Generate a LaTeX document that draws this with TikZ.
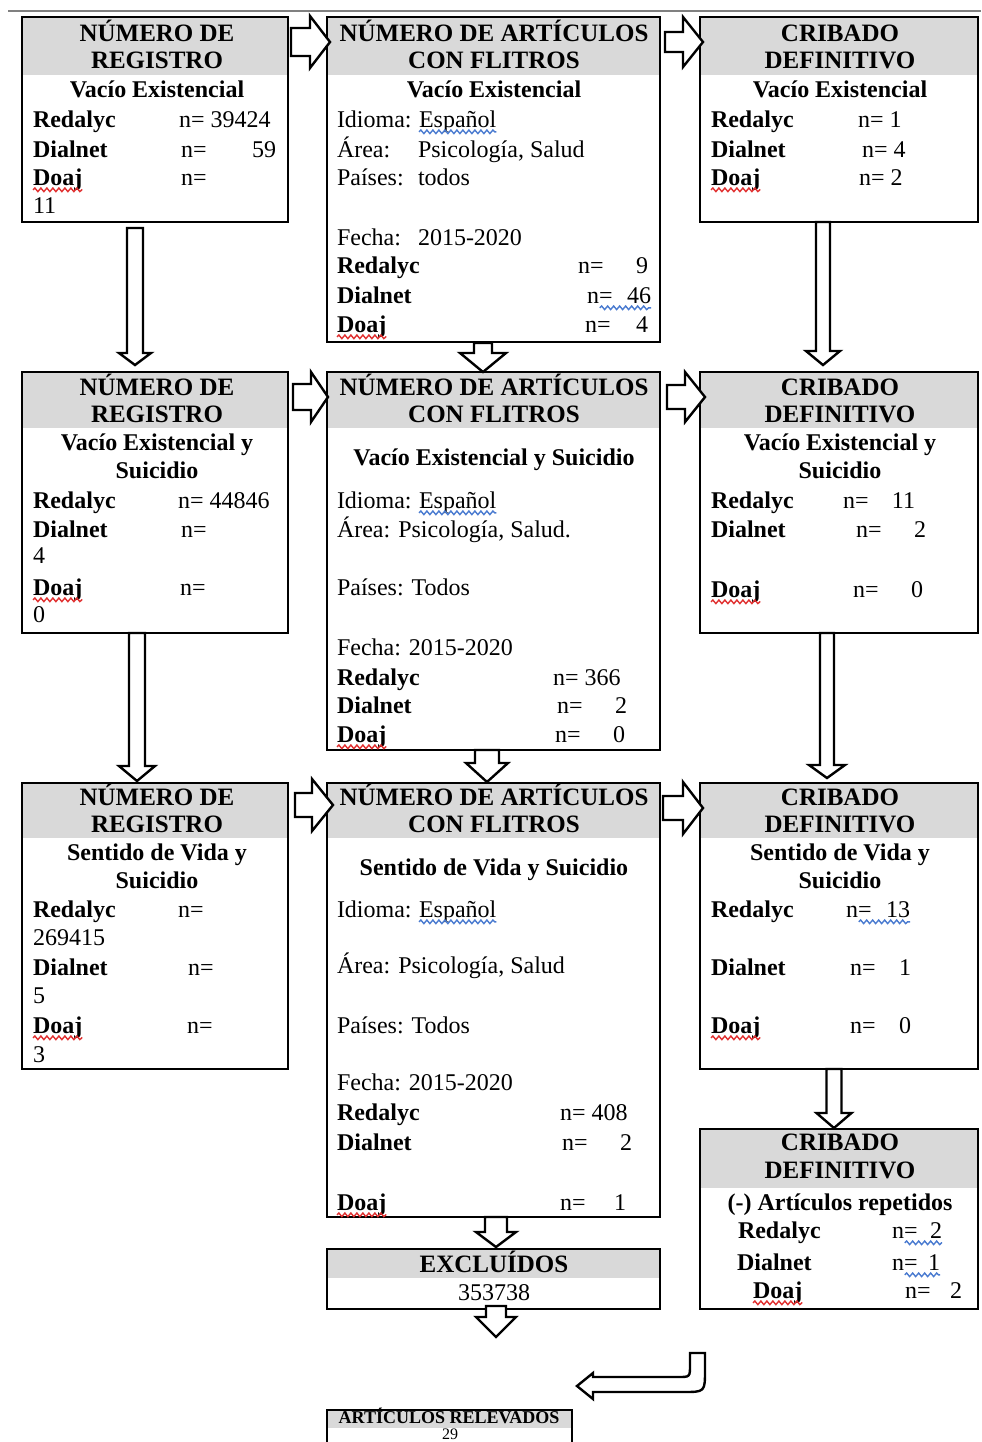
\documentclass[tikz,border=0pt]{standalone}
\usepackage{fontspec}
\setmainfont{Liberation Serif}
\usetikzlibrary{calc,decorations.pathmorphing}
\definecolor{hdrgray}{HTML}{D9D9D9}
\definecolor{topline}{HTML}{808080}
\definecolor{wred}{HTML}{E03030}
\definecolor{wblue}{HTML}{4A7BD0}
% vertical block arrow: #1 x(px) #2 tail anchor #3 tail gap #4 tip anchor #5 tip gap #6 shaft half #7 head half #8 head length
\newcommand{\vblk}[8]{%
 \draw[blk] let \p1=(#1,0 |- #2), \p2=(#1,0 |- #4) in
  ({\x1-(#6)*0.5pt},{\y1-(#3)*0.5pt}) -- ({\x1+(#6)*0.5pt},{\y1-(#3)*0.5pt})
  -- ({\x1+(#6)*0.5pt},{\y2+(#5)*0.5pt+(#8)*0.5pt}) -- ({\x1+(#7)*0.5pt},{\y2+(#5)*0.5pt+(#8)*0.5pt})
  -- (\x1,{\y2+(#5)*0.5pt}) -- ({\x1-(#7)*0.5pt},{\y2+(#5)*0.5pt+(#8)*0.5pt})
  -- ({\x1-(#6)*0.5pt},{\y2+(#5)*0.5pt+(#8)*0.5pt}) -- cycle;}
% horizontal block arrow: #1 y(px)
\newcommand{\hblk}[8]{%
 \draw[blk] let \p1=(#2 |- 0,#1), \p2=(#4 |- 0,#1) in
  ({\x1+(#3)*0.5pt},{\y1+(#6)*0.5pt}) -- ({\x2-(#5)*0.5pt-(#8)*0.5pt},{\y1+(#6)*0.5pt})
  -- ({\x2-(#5)*0.5pt-(#8)*0.5pt},{\y1+(#7)*0.5pt}) -- ({\x2-(#5)*0.5pt},\y1)
  -- ({\x2-(#5)*0.5pt-(#8)*0.5pt},{\y1-(#7)*0.5pt}) -- ({\x2-(#5)*0.5pt-(#8)*0.5pt},{\y1-(#6)*0.5pt})
  -- ({\x1+(#3)*0.5pt},{\y1-(#6)*0.5pt}) -- cycle;}
\tikzset{
 every node/.style={inner sep=0pt, outer sep=0pt},
 box/.style n args={3}{draw, line width=0.8pt, rectangle, anchor=north west,
   minimum width=#1, minimum height=#2,
   path picture={\fill[hdrgray] (path picture bounding box.north west) rectangle ([yshift=-#3]path picture bounding box.north east);}},
 hd/.style={anchor=base, font=\fontsize{12.5}{14}\selectfont\bfseries},
 tc/.style={anchor=base, font=\fontsize{12}{14}\selectfont\bfseries},
 tb/.style={anchor=base west, font=\fontsize{12}{14}\selectfont\bfseries},
 tl/.style={anchor=base west, font=\fontsize{12}{14}\selectfont},
 tr/.style={anchor=base east, font=\fontsize{12}{14}\selectfont},
 blk/.style={draw, fill=white, line width=1.2pt, line join=miter},
 wave/.style={decorate, decoration={snake, amplitude=0.9pt, segment length=3pt}, line width=0.7pt},
 rw/.style={wave, wred},
 bw/.style={wave, wblue},
}
\begin{document}
\begin{tikzpicture}[x=0.5pt, y=-0.5pt]
\useasboundingbox (0,0) rectangle (981,1442);
\draw[topline, line width=1.2pt] (8,11) -- (981,11);

% ---------------- Row 1 ----------------
\node[box={133pt}{102.5pt}{29pt}] (a1) at (22,17) {};
\node[hd] (a1h1) at (157,41) {NÚMERO DE};
\node[hd] (a1h2) at (157,68) {REGISTRO};
\node[tc] (a1s) at (157,97) {Vacío Existencial};
\node[tb] (a1r) at (33,127) {Redalyc};
\node[tl] (a1rn) at (179,127) {n= 39424};
\node[tb] (a1d) at (33,157) {Dialnet};
\node[tl] (a1dn) at (181,157) {n=};
\node[tr] (a1dv) at (276,157) {59};
\node[tb] (a1o) at (33,185) {Doaj};
\node[tl] (a1on) at (181,185) {n=};
\node[tl] (a1ov) at (33,213) {11};

\node[box={166.5pt}{162.5pt}{29pt}] (b1) at (327,17) {};
\node[hd] (b1h1) at (494,41) {NÚMERO DE ARTÍCULOS};
\node[hd] (b1h2) at (494,68) {CON FLITROS};
\node[tc] (b1s) at (494,97) {Vacío Existencial};
\node[tl] (b1i) at (337,127) {Idioma:};
\node[tl] (b1iv) at (419,127) {Español};
\node[tl] (b1a) at (337,157) {Área:};
\node[tl] (b1av) at (418,157) {Psicología, Salud};
\node[tl] (b1p) at (337,185) {Países:};
\node[tl] (b1pv) at (418,185) {todos};
\node[tl] (b1f) at (337,245) {Fecha:};
\node[tl] (b1fv) at (418,245) {2015-2020};
\node[tb] (b1r) at (337,273) {Redalyc};
\node[tl] (b1rn) at (578,273) {n=};
\node[tr] (b1rv) at (648,273) {9};
\node[tb] (b1d) at (337,303) {Dialnet};
\node[tl] (b1dn) at (587,303) {n=};
\node[tr] (b1dv) at (651,303) {46};
\node[tb] (b1o) at (337,332) {Doaj};
\node[tl] (b1on) at (585,332) {n=};
\node[tr] (b1ov) at (648,332) {4};

\node[box={139pt}{102.5pt}{29pt}] (c1) at (700,17) {};
\node[hd] (c1h1) at (840,41) {CRIBADO};
\node[hd] (c1h2) at (840,68) {DEFINITIVO};
\node[tc] (c1s) at (840,97) {Vacío Existencial};
\node[tb] (c1r) at (711,127) {Redalyc};
\node[tl] (c1rn) at (858,127) {n= 1};
\node[tb] (c1d) at (711,157) {Dialnet};
\node[tl] (c1dn) at (862,157) {n= 4};
\node[tb] (c1o) at (711,185) {Doaj};
\node[tl] (c1on) at (859,185) {n= 2};

% ---------------- Row 2 ----------------
\node[box={133pt}{130.5pt}{28pt}] (a2) at (22,372) {};
\node[hd] (a2h1) at (157,395) {NÚMERO DE};
\node[hd] (a2h2) at (157,422) {REGISTRO};
\node[tc] (a2s1) at (157,450) {Vacío Existencial y};
\node[tc] (a2s2) at (157,478) {Suicidio};
\node[tb] (a2r) at (33,508) {Redalyc};
\node[tl] (a2rn) at (178,508) {n= 44846};
\node[tb] (a2d) at (33,537) {Dialnet};
\node[tl] (a2dn) at (181,537) {n=};
\node[tl] (a2dv) at (33,563) {4};
\node[tb] (a2o) at (33,595) {Doaj};
\node[tl] (a2on) at (180,595) {n=};
\node[tl] (a2ov) at (33,622) {0};

\node[box={166.5pt}{189pt}{28pt}] (b2) at (327,372) {};
\node[hd] (b2h1) at (494,395) {NÚMERO DE ARTÍCULOS};
\node[hd] (b2h2) at (494,422) {CON FLITROS};
\node[tc] (b2s) at (494,465) {Vacío Existencial y Suicidio};
\node[tl] (b2i) at (337,508) {Idioma:};
\node[tl] (b2iv) at (419,508) {Español};
\node[tl] (b2a) at (337,537) {Área: Psicología, Salud.};
\node[tl] (b2p) at (337,595) {Países: Todos};
\node[tl] (b2f) at (337,655) {Fecha: 2015-2020};
\node[tb] (b2r) at (337,685) {Redalyc};
\node[tl] (b2rn) at (553,685) {n= 366};
\node[tb] (b2d) at (337,713) {Dialnet};
\node[tl] (b2dn) at (557,713) {n=};
\node[tr] (b2dv) at (627,713) {2};
\node[tb] (b2o) at (337,742) {Doaj};
\node[tl] (b2on) at (555,742) {n=};
\node[tr] (b2ov) at (625,742) {0};

\node[box={139pt}{130.5pt}{28pt}] (c2) at (700,372) {};
\node[hd] (c2h1) at (840,395) {CRIBADO};
\node[hd] (c2h2) at (840,422) {DEFINITIVO};
\node[tc] (c2s1) at (840,450) {Vacío Existencial y};
\node[tc] (c2s2) at (840,478) {Suicidio};
\node[tb] (c2r) at (711,508) {Redalyc};
\node[tl] (c2rn) at (843,508) {n=};
\node[tr] (c2rv) at (915,508) {11};
\node[tb] (c2d) at (711,537) {Dialnet};
\node[tl] (c2dn) at (856,537) {n=};
\node[tr] (c2dv) at (926,537) {2};
\node[tb] (c2o) at (711,597) {Doaj};
\node[tl] (c2on) at (853,597) {n=};
\node[tr] (c2ov) at (923,597) {0};

% ---------------- Row 3 ----------------
\node[box={133pt}{143pt}{27.5pt}] (a3) at (22,783) {};
\node[hd] (a3h1) at (157,805) {NÚMERO DE};
\node[hd] (a3h2) at (157,832) {REGISTRO};
\node[tc] (a3s1) at (157,860) {Sentido de Vida y};
\node[tc] (a3s2) at (157,888) {Suicidio};
\node[tb] (a3r) at (33,917) {Redalyc};
\node[tl] (a3rn) at (178,917) {n=};
\node[tl] (a3rv) at (33,945) {269415};
\node[tb] (a3d) at (33,975) {Dialnet};
\node[tl] (a3dn) at (188,975) {n=};
\node[tl] (a3dv) at (33,1003) {5};
\node[tb] (a3o) at (33,1033) {Doaj};
\node[tl] (a3on) at (187,1033) {n=};
\node[tl] (a3ov) at (33,1062) {3};

\node[box={166.5pt}{217pt}{27.5pt}] (b3) at (327,783) {};
\node[hd] (b3h1) at (494,805) {NÚMERO DE ARTÍCULOS};
\node[hd] (b3h2) at (494,832) {CON FLITROS};
\node[tc] (b3s) at (494,875) {Sentido de Vida y Suicidio};
\node[tl] (b3i) at (337,917) {Idioma:};
\node[tl] (b3iv) at (419,917) {Español};
\node[tl] (b3a) at (337,973) {Área: Psicología, Salud};
\node[tl] (b3p) at (337,1033) {Países: Todos};
\node[tl] (b3f) at (337,1090) {Fecha: 2015-2020};
\node[tb] (b3r) at (337,1120) {Redalyc};
\node[tl] (b3rn) at (560,1120) {n= 408};
\node[tb] (b3d) at (337,1150) {Dialnet};
\node[tl] (b3dn) at (562,1150) {n=};
\node[tr] (b3dv) at (632,1150) {2};
\node[tb] (b3o) at (337,1210) {Doaj};
\node[tl] (b3on) at (560,1210) {n=};
\node[tr] (b3ov) at (626,1210) {1};

\node[box={139pt}{143pt}{27.5pt}] (c3) at (700,783) {};
\node[hd] (c3h1) at (840,805) {CRIBADO};
\node[hd] (c3h2) at (840,832) {DEFINITIVO};
\node[tc] (c3s1) at (840,860) {Sentido de Vida y};
\node[tc] (c3s2) at (840,888) {Suicidio};
\node[tb] (c3r) at (711,917) {Redalyc};
\node[tl] (c3rn) at (846,917) {n=};
\node[tr] (c3rv) at (910,917) {13};
\node[tb] (c3d) at (711,975) {Dialnet};
\node[tl] (c3dn) at (850,975) {n=};
\node[tr] (c3dv) at (911,975) {1};
\node[tb] (c3o) at (711,1033) {Doaj};
\node[tl] (c3on) at (850,1033) {n=};
\node[tr] (c3ov) at (911,1033) {0};

% ---------------- Row 4 ----------------
\node[box={139pt}{90pt}{29.5pt}] (c4) at (700,1129) {};
\node[hd] (c4h1) at (840,1150) {CRIBADO};
\node[hd] (c4h2) at (840,1178) {DEFINITIVO};
\node[tc] (c4s) at (840,1210) {(-) Artículos repetidos};
\node[tb] (c4r) at (738,1238) {Redalyc};
\node[tl] (c4rn) at (892,1238) {n=};
\node[tr] (c4rv) at (942,1238) {2};
\node[tb] (c4d) at (737,1270) {Dialnet};
\node[tl] (c4dn) at (892,1270) {n=};
\node[tr] (c4dv) at (940,1270) {1};
\node[tb] (c4o) at (753,1298) {Doaj};
\node[tl] (c4on) at (905,1298) {n=};
\node[tr] (c4ov) at (962,1298) {2};

\node[box={166.5pt}{30pt}{14.5pt}] (ex) at (327,1249) {};
\node[hd] (exh) at (494,1272) {EXCLUÍDOS};
\node[anchor=base, font=\fontsize{12}{14}\selectfont] (exv) at (494,1300) {353738};

\node[box={122.5pt}{40pt}{9pt}] (art) at (327,1410) {};
\node[anchor=base, font=\fontsize{9}{11}\selectfont\bfseries] (arth) at (449,1423) {ARTÍCULOS RELEVADOS};
\node[anchor=base, font=\fontsize{8}{10}\selectfont] (artv) at (450,1439) {29};

% ---------------- wavy underlines ----------------
\foreach \n in {a1o,b1o,c1o,a2o,b2o,c2o,a3o,b3o,c3o,c4o}{
  \draw[rw] ([yshift=-2.4pt]\n.base west) -- ([yshift=-2.4pt]\n.base east);
}
\foreach \n in {b1iv,b2iv,b3iv}{
  \draw[bw] ([yshift=-2.4pt]\n.base west) -- ([yshift=-2.4pt]\n.base east);
}
\draw[bw] ([yshift=-2.4pt]b1dn.base) -- ([yshift=-2.4pt]b1dv.base east);
\draw[bw] ([yshift=-2.4pt]c3rn.base) -- ([yshift=-2.4pt]c3rv.base east);
\draw[bw] ([yshift=-2.4pt]c4rn.base) -- ([yshift=-2.4pt]c4rv.base east);
\draw[bw] ([yshift=-2.4pt]c4dn.base) -- ([yshift=-2.4pt]c4dv.base east);

% ---------------- block arrows ----------------
\hblk{42}{a1.east}{3}{b1.west}{-3}{14}{26}{20}
\hblk{42}{b1.east}{5}{c1.west}{-3}{10}{25}{20}
\hblk{397}{a2.east}{5}{b2.west}{-1}{13}{25}{17}
\hblk{397}{b2.east}{7}{c2.west}{-5}{12}{25}{20}
\hblk{805}{a3.east}{7}{b3.west}{-6}{12}{26}{21}
\hblk{808}{b3.east}{3}{c3.west}{-3}{12}{26}{20}

\vblk{135}{a1.south}{6}{a2.north}{7}{8}{16}{12}
\vblk{483}{b1.south}{1}{b2.north}{0}{9}{23}{19}
\vblk{823}{c1.south}{0}{c2.north}{7}{7}{17}{14}
\vblk{137}{a2.south}{0}{a3.north}{2}{8}{18}{15}
\vblk{487}{b2.south}{0}{b3.north}{1}{12}{21}{19}
\vblk{827}{c2.south}{0}{c3.north}{5}{7}{18}{13}
\vblk{834}{c3.south}{0}{c4.north}{1}{7.5}{17.5}{15}
\vblk{496}{b3.south}{0}{ex.north}{2}{11}{20}{15}
\coordinate (exend) at (496,1337);
\vblk{496}{ex.south}{-3}{exend}{0}{10}{20}{20}

% U-turn arrow
\coordinate (uend) at (577,1386);
\draw[blk] (690,1353) -- (705,1353) -- (705,1370) .. controls (705,1392) and (705,1392) .. (683,1392)
  -- (593,1392) -- (593,1399) -- (uend) -- (593,1373) -- (593,1377) -- (678,1377)
  .. controls (690,1377) and (690,1377) .. (690,1365) -- cycle;
\end{tikzpicture}
\end{document}
